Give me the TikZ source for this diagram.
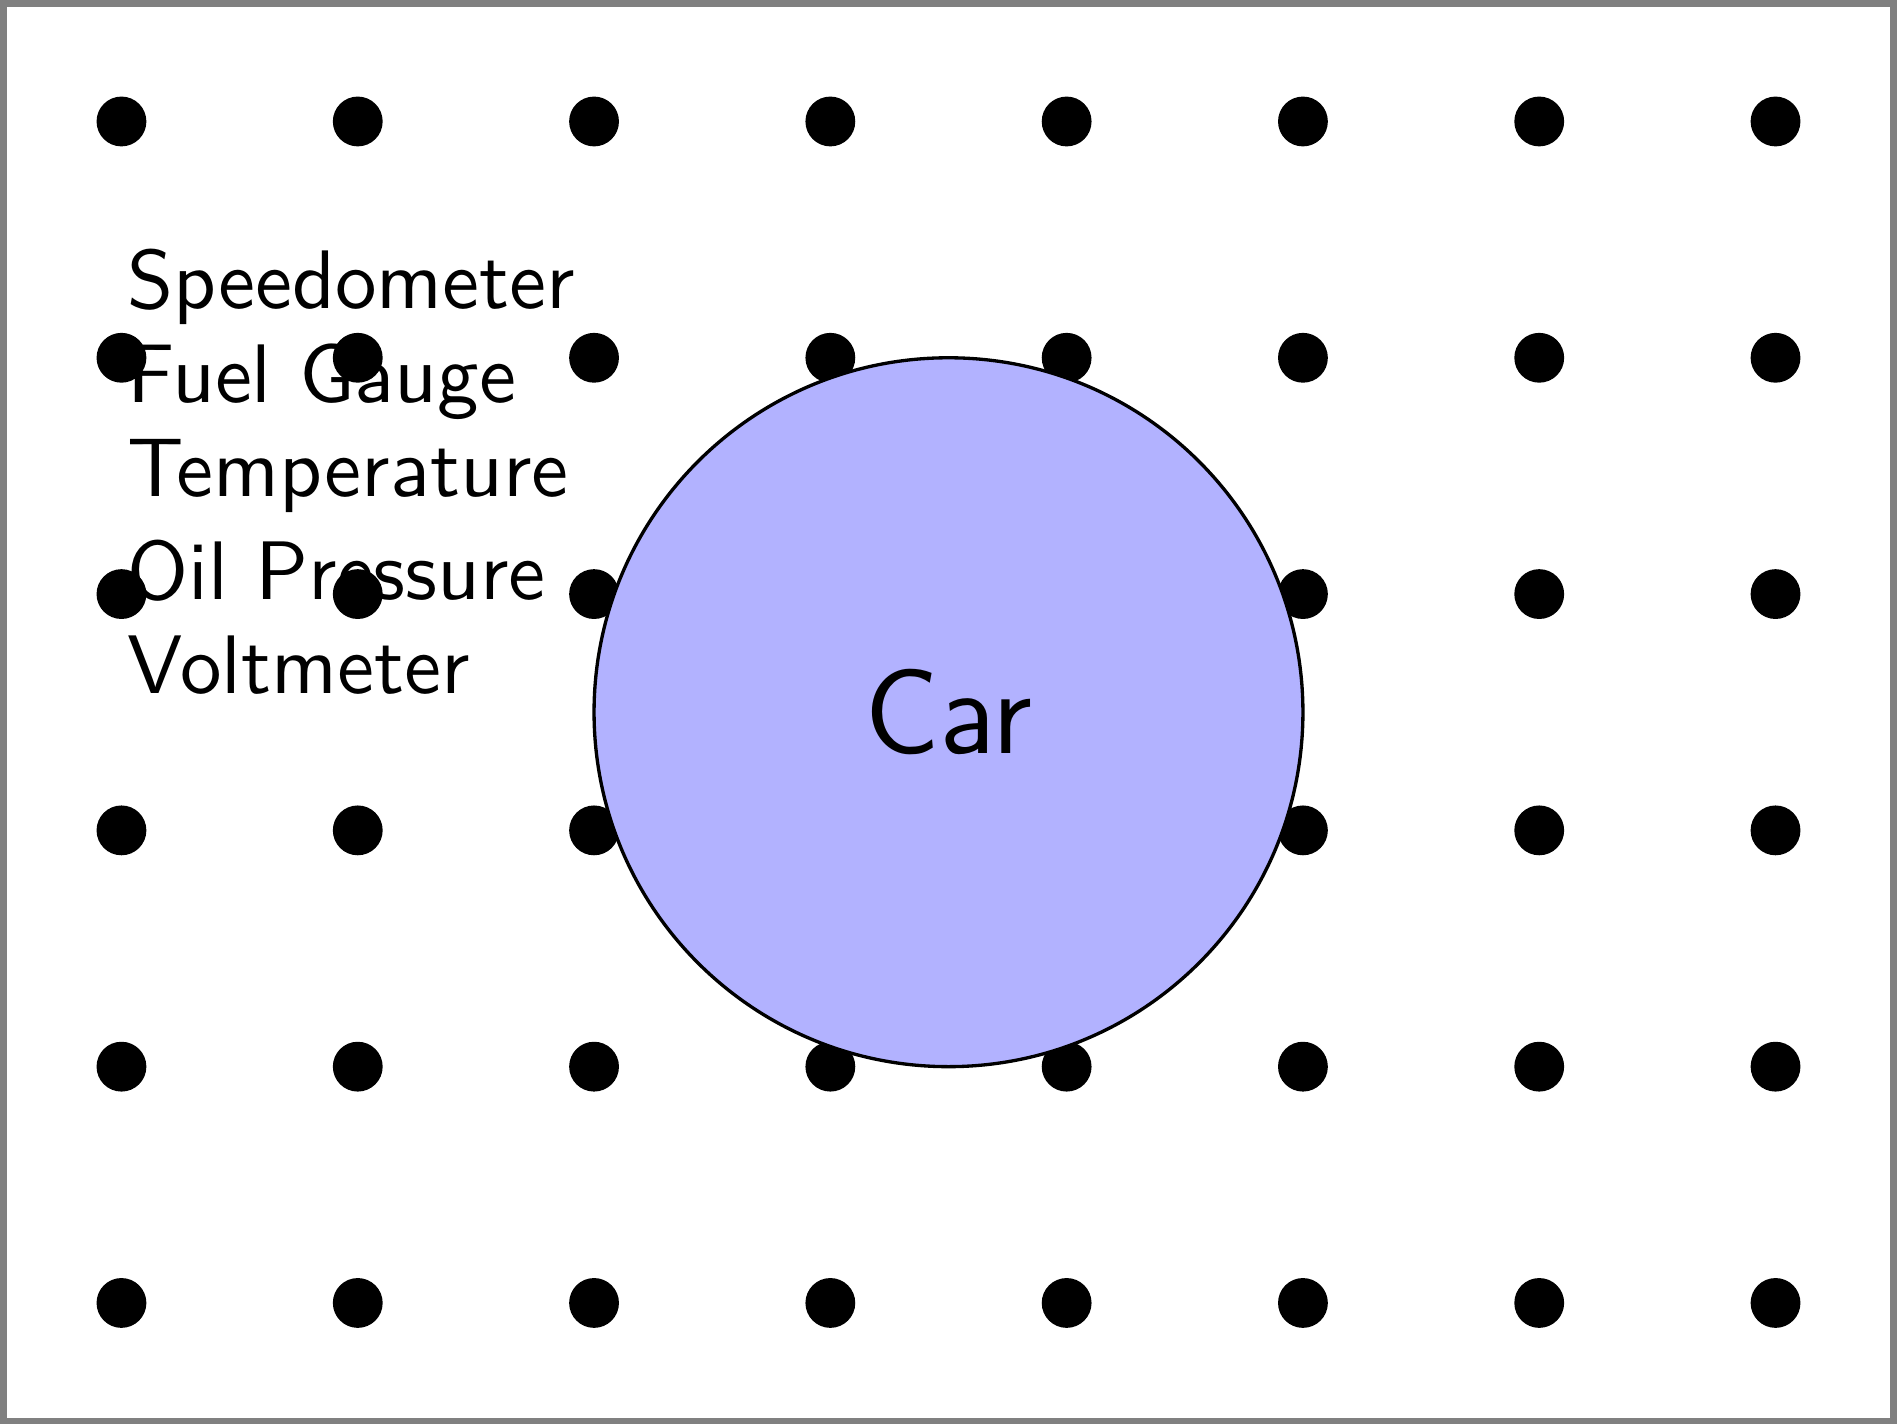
\documentclass[tikz,border=0pt]{standalone}
\usepackage{tikz}
\usetikzlibrary{positioning}
\tikzset{
    frame/.style={draw=gray, thick},
    dot/.style={circle, fill=black, minimum size=6pt, inner sep=0pt},
    car/.style={circle, draw=black, fill=blue!30, minimum size=3cm, inner sep=0pt, font=\Large\sffamily},
    gauge/.style={anchor=west, font=\sffamily}
}
\begin{document}
\begin{tikzpicture}
    % Frame
    \draw[frame] (0,0) rectangle (8,6);

    % Dots
    \foreach \x in {0,...,7}
        \foreach \y in {0,...,5}
            \node[dot] (dot-\x-\y) at (\x+0.5, \y+0.5) {};

    % Car
    \node[car] (car) at (4, 3) {Car};

    % Gauges
    \foreach \g [count=\i] in {Speedometer, Fuel Gauge, Temperature, Oil Pressure, Voltmeter}
        \node[gauge] (gauge-\i) at (0.4, 5.2-0.4*\i) {\g};
\end{tikzpicture}
\end{document}
